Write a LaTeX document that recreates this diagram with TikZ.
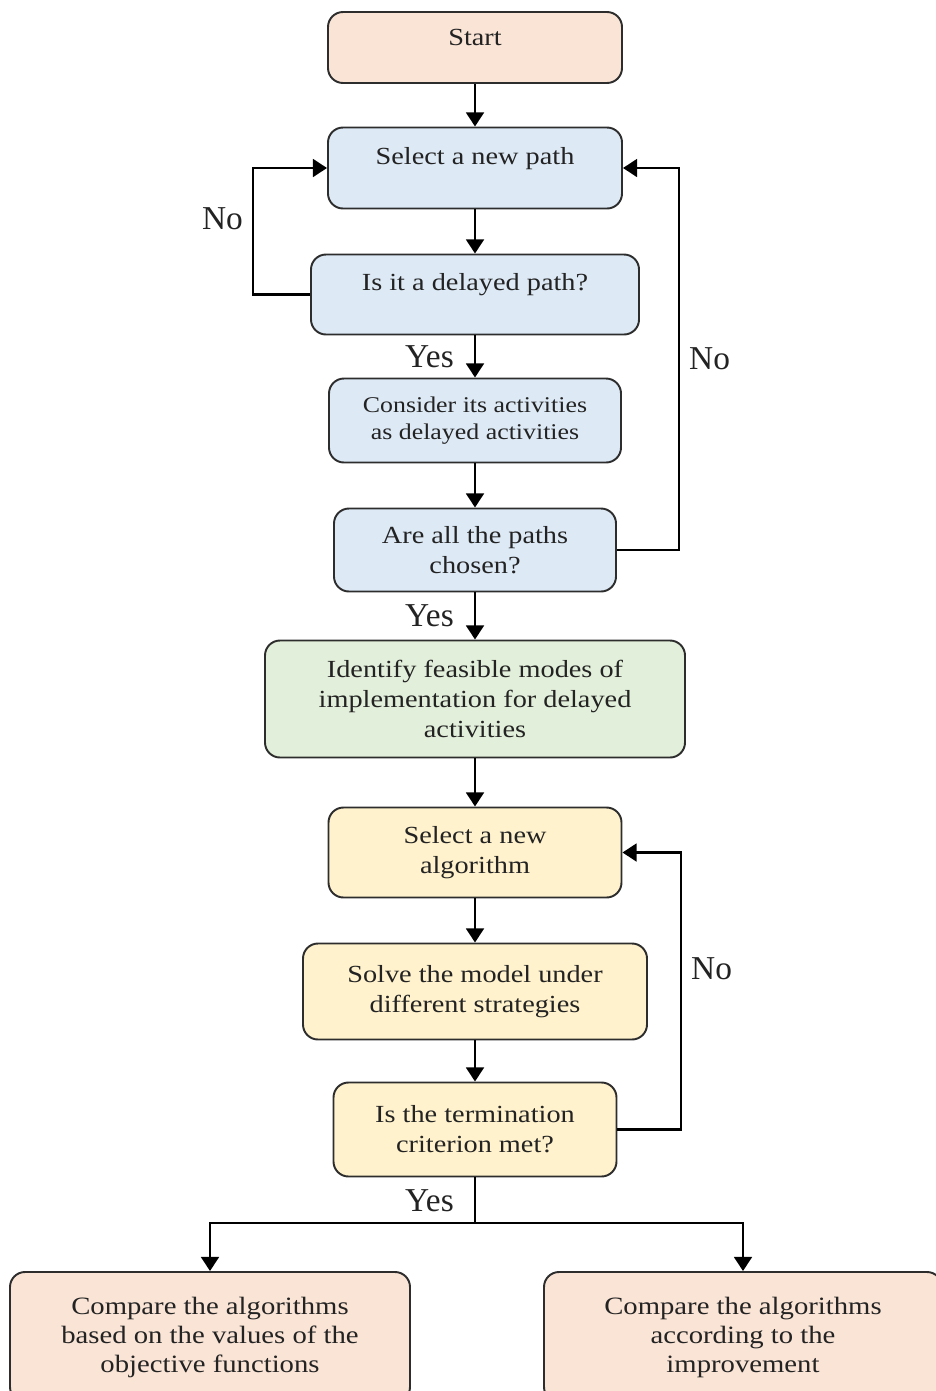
\documentclass[tikz,border=0pt]{standalone}
\usepackage{fontspec}
\usepackage{xcolor}
\usetikzlibrary{shapes,arrows.meta,positioning}
\setmainfont{Liberation Serif}
\newfontfamily\boxfont[FakeStretch=1.15]{Liberation Serif}

\definecolor{peach}{RGB}{250,228,214}
\definecolor{paleblue}{RGB}{221,234,246}
\definecolor{palegreen}{RGB}{226,239,218}
\definecolor{paleyellow}{RGB}{255,242,204}
\definecolor{edge}{RGB}{45,45,45}
\definecolor{ink}{RGB}{35,35,35}

\begin{document}
\begin{tikzpicture}[node distance=2.5cm, auto]
  \tikzstyle{block} = [rectangle, draw=edge, line width=1.1pt, rounded corners=0.3cm, text=ink, align=center, font=\boxfont\fontsize{14pt}{17pt}\selectfont]
  \tikzstyle{raised} = [text depth=0.5cm]
  \tikzstyle{result} = [block, fill=peach, minimum height=2.6cm, font=\boxfont\fontsize{14.2pt}{16.5pt}\selectfont]
  \tikzstyle{line} = [draw, line width=1.6pt, -{Triangle[length=8pt,width=10pt]}]
  \tikzstyle{lbl} = [font=\fontsize{19pt}{22pt}\selectfont, text=ink, inner sep=5pt]
  \tikzstyle{yes} = [lbl, swap, xshift=-0.22cm]

  \useasboundingbox (0,0) rectangle (18.7,-27.82);

  \node [block, raised, fill=peach, minimum width=5.88cm, minimum height=1.42cm, text depth=0.4cm] (start) at (9.5,-0.95) {Start};
  \node [block, raised, fill=paleblue, minimum width=5.88cm, minimum height=1.62cm, below of=start, node distance=2.41cm] (selpath) {Select a new path};
  \node [block, raised, fill=paleblue, minimum width=6.56cm, minimum height=1.6cm, below of=selpath, node distance=2.53cm] (delayed) {Is it a delayed path?};
  \node [block, fill=paleblue, minimum width=5.84cm, minimum height=1.68cm, below of=delayed, node distance=2.52cm, font=\boxfont\fontsize{12.8pt}{15.5pt}\selectfont] (consider) {Consider its activities\\as delayed activities};
  \node [block, fill=paleblue, minimum width=5.64cm, minimum height=1.66cm, below of=consider, node distance=2.59cm] (chosen) {Are all the paths\\chosen?};
  \node [block, fill=palegreen, minimum width=8.4cm, minimum height=2.34cm, below of=chosen, node distance=2.98cm] (identify) {Identify feasible modes of\\implementation for delayed\\activities};
  \node [block, fill=paleyellow, minimum width=5.86cm, minimum height=1.8cm, below of=identify, node distance=3.07cm] (selalg) {Select a new\\algorithm};
  \node [block, fill=paleyellow, minimum width=6.88cm, minimum height=1.92cm, below of=selalg, node distance=2.78cm] (solve) {Solve the model under\\different strategies};
  \node [block, fill=paleyellow, minimum width=5.66cm, minimum height=1.88cm, below of=solve, node distance=2.76cm] (term) {Is the termination\\criterion met?};
  \node [result, minimum width=8cm] (cmpobj) at (4.2,-26.74) {Compare the algorithms\\based on the values of the\\objective functions};
  \node [result, minimum width=7.96cm] (cmpimp) at (14.86,-26.74) {Compare the algorithms\\according to the\\improvement};

  \path [line] (start) -- (selpath);
  \path [line] (selpath) -- (delayed);
  \path [line] (delayed) -- node [yes] {Yes} (consider);
  \path [line] (consider) -- (chosen);
  \path [line] (chosen) -- node [yes] {Yes} (identify);
  \path [line] (identify) -- (selalg);
  \path [line] (selalg) -- (solve);
  \path [line] (solve) -- (term);
  % loops back
  \path [line] (delayed.west) -- ++(-1.14,0) |- node [lbl, pos=0.3] {No} (selpath.west);
  \path [line] (chosen.east) -- ++(1.24,0) |- node [lbl, pos=0.25, swap] {No} (selpath.east);
  \path [line] (term.east) -- ++(1.27,0) |- node [lbl, pos=0.29, swap] {No} (selalg.east);
  % split to the two comparisons
  \draw [line width=1.6pt] (term.south) -- node [yes] {Yes} ++(0,-0.91) coordinate (split);
  \path [line] (split) -| (cmpobj.north);
  \path [line] (split) -| (cmpimp.north);
\end{tikzpicture}
\end{document}
